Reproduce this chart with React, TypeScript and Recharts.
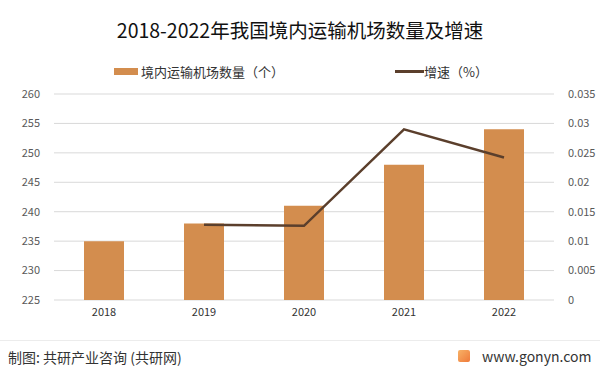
import { ComposedChart, Bar, Line, XAxis, YAxis, CartesianGrid } from "recharts"

const years = ["2018", "2019", "2020", "2021", "2022"]
const airports = [235, 238, 241, 248, 254]
const growth = [null, 0.0128, 0.0126, 0.029, 0.0242]
const leftTicks = [225, 230, 235, 240, 245, 250, 255, 260]
const rightTicks = [0, 0.005, 0.01, 0.015, 0.02, 0.025, 0.03, 0.035]

const data = years.map((y, i) => ({ year: y, airports: airports[i], growth: growth[i] }))

const font = "'Noto Sans CJK SC', 'Noto Sans', sans-serif"
const tickStyle = { fontSize: 11, fill: "#595959", fontFamily: font }

export default function App() {
  return (
    <div style={{ position: "absolute", left: 0, top: 0, width: 600, height: 375, background: "#fff", fontFamily: font }}>
      <div style={{ position: "absolute", top: 15, width: 600, textAlign: "center", fontSize: 19.5, color: "#111" }}>
        2018-2022年我国境内运输机场数量及增速
      </div>
      <div style={{ position: "absolute", top: 62, left: 114, display: "flex", alignItems: "center", fontSize: 13, color: "#333" }}>
        <span style={{ display: "inline-block", width: 24, height: 7, background: "#d38d4e", marginRight: 3 }} />
        境内运输机场数量（个）
      </div>
      <div style={{ position: "absolute", top: 62, left: 395, display: "flex", alignItems: "center", fontSize: 13, color: "#333" }}>
        <span style={{ display: "inline-block", width: 29, height: 3, background: "#5b3f2c", marginRight: 0 }} />
        增速（%）
      </div>
      <ComposedChart width={600} height={375} data={data} margin={{ top: 94, right: 0, bottom: 50, left: 4 }}>
        <CartesianGrid vertical={false} stroke="#d9d9d9" yAxisId="left" />
        <XAxis dataKey="year" axisLine={false} tickLine={false} tick={{ ...tickStyle, fill: "#333" }} height={25} />
        <YAxis
          yAxisId="left"
          domain={[225, 260]}
          ticks={leftTicks}
          axisLine={false}
          tickLine={false}
          tick={tickStyle}
          width={50}
          tickMargin={8}
        />
        <YAxis
          yAxisId="right"
          orientation="right"
          domain={[0, 0.035]}
          ticks={rightTicks}
          axisLine={false}
          tickLine={false}
          tick={tickStyle}
          width={46}
          tickMargin={8}
          tickFormatter={(v: number) => String(v)}
        />
        <Bar yAxisId="left" dataKey="airports" fill="#d38d4e" barSize={40} isAnimationActive={false} />
        <Line
          yAxisId="right"
          dataKey="growth"
          stroke="#5b3f2c"
          strokeWidth={2.5}
          dot={false}
          activeDot={false}
          isAnimationActive={false}
        />
      </ComposedChart>
      <div style={{ position: "absolute", top: 340, left: 0, width: 600, borderTop: "1px solid #ececec" }} />
      <div style={{ position: "absolute", top: 347, left: 8, fontSize: 14, color: "#333" }}>
        制图: 共研产业咨询 (共研网)
      </div>
      <div style={{ position: "absolute", top: 346, left: 458, display: "flex", alignItems: "center", fontSize: 14, color: "#333" }}>
        <span
          style={{
            display: "inline-block",
            width: 12,
            height: 12,
            background: "linear-gradient(135deg, #f7b267, #ef7a3a)",
            borderRadius: 2,
            marginRight: 12,
          }}
        />
        www.gonyn.com
      </div>
    </div>
  )
}
